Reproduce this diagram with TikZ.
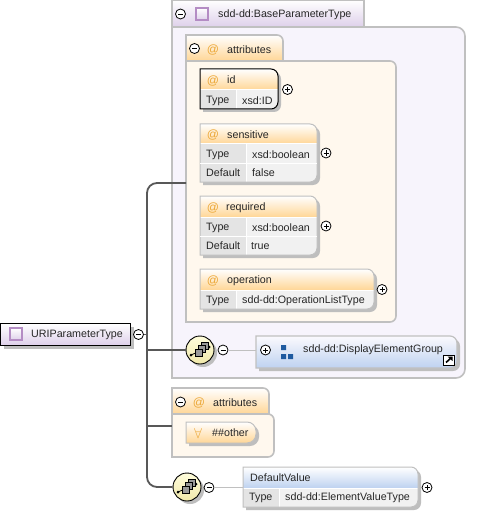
\documentclass[tikz,border=0pt]{standalone}
\usepackage{fontspec}
\setmainfont{Liberation Sans}
\usetikzlibrary{calc}
\definecolor{figEdge}{RGB}{192,192,192}
\definecolor{figTrunk}{RGB}{88,88,88}
\definecolor{figLav}{RGB}{247,244,252}
\definecolor{figLavH}{RGB}{222,208,234}
\definecolor{figCream}{RGB}{255,248,238}
\definecolor{figOrange}{RGB}{255,214,150}
\definecolor{figAt}{RGB}{236,168,56}
\definecolor{figBlue}{RGB}{190,210,240}
\definecolor{figIcon}{RGB}{30,90,160}
\definecolor{figKey}{RGB}{228,228,228}
\definecolor{figVal}{RGB}{241,241,241}
\definecolor{figShadow}{RGB}{190,190,190}
\definecolor{figPurple}{RGB}{180,140,196}
\definecolor{figSeq}{RGB}{255,253,220}
\definecolor{figSeqB}{RGB}{240,232,170}
\tikzset{
  lbl/.style={anchor=west, inner sep=0pt, font=\fontsize{10.7}{12}\selectfont, text=black!85},
  atsign/.style={anchor=center, inner sep=0pt, font=\fontsize{12}{12}\selectfont, text=figAt},
  btn/.style={circle, draw=black, fill=white, line width=0.8pt, minimum size=10pt, inner sep=0pt},
  minusbtn/.style={btn, path picture={\draw[line width=0.8pt] ($(path picture bounding box.center)+(-2.5pt,0)$) -- ++(5pt,0);}},
  plusbtn/.style={btn, path picture={\draw[line width=0.8pt] ($(path picture bounding box.center)+(-2.5pt,0)$) -- ++(5pt,0);
    \draw[line width=0.8pt] ($(path picture bounding box.center)+(0,-2.5pt)$) -- ++(0,5pt);}},
  seqnode/.style={circle, draw=black, line width=0.9pt, minimum size=28pt, inner sep=0pt, top color=figSeq, bottom color=figSeqB},
  trunk/.style={draw=figTrunk, line width=1.8pt},
  twig/.style={draw=figEdge, line width=0.8pt},
}
% box with square left corners and round right corners
\newcommand{\rbox}[6][7pt]{\path[#2] (#3,#4) [rounded corners=#1] -- (#5,#4) -- (#5,#6) [sharp corners] -- (#3,#6) -- cycle;}
% shadow, header, table body, outline
\newcommand{\fieldbox}[8]{%
  \rbox{fill=figShadow}{#1+3}{#2+3}{#3+3}{#5+3}
  \rbox{fill=figVal}{#1}{#2}{#3}{#5}
  \fill[figKey] (#1,#4) rectangle (#6,#5);
  \path[top color=white, bottom color=#7] (#1,#2) [rounded corners=7pt] -- (#3,#2) [sharp corners] -- (#3,#4) -- (#1,#4) -- cycle;
  \draw[white, line width=1pt] (#1,#4) -- (#3,#4) (#6,#4) -- (#6,#5);
  \rbox{draw=#8, line width=1pt}{#1}{#2}{#3}{#5}
}
% little square type icon
\newcommand{\typeicon}[2]{\draw[figPurple, line width=1.2pt, top color=white, bottom color=figLavH] (#1,#2) rectangle ++(12,12);}
% three stacked squares of a sequence
\newcommand{\seqicon}[1]{\begin{scope}[shift={(#1)}]
  \draw[black, line width=0.8pt] (-9,5) -- (9,-3);
  \fill (-9,5) circle (1.5pt) (9,-3) circle (1.5pt);
  \foreach \dx/\dy in {1/-8,-2/-5,-5/-1}
    \draw[black, fill=black!40, line width=0.6pt] (\dx,\dy) rectangle ++(7,7);
\end{scope}}
\begin{document}
\begin{tikzpicture}[x=1pt, y=-1pt]
\useasboundingbox[fill=white] (0,0) rectangle (477,513);
% outer type panel
\rbox[9pt]{draw=figEdge, fill=figLav, line width=1.6pt}{172}{27}{465}{378}
\path[draw=figEdge, line width=1.6pt, top color=white, bottom color=figLavH] (172,0) rectangle (364,27);
\node[minusbtn] (baseMinus) at (180.5,14) {};
\typeicon{196}{8}
\node[lbl] (baseLbl) at (218,14.5) {sdd-dd:BaseParameterType};
% attributes group
\rbox[6pt]{draw=figEdge, fill=figCream, line width=1.6pt}{186}{61}{396}{322}
\path[draw=figEdge, line width=1.6pt, top color=white, bottom color=figOrange] (186,61) -- (186,35) [rounded corners=6pt] -- (283,35) [sharp corners] -- (283,61) -- cycle;
\node[minusbtn] (attrMinus) at (194.5,48.5) {};
\node[atsign] (attrAt) at (213,49.5) {@};
\node[lbl] (attrLbl) at (227,49.5) {attributes};
% id
\fieldbox{200}{69}{278}{90}{109}{236}{figOrange}{black}
\node[atsign] (idAt) at (213,81) {@};
\node[lbl] (idLbl) at (227,80) {id};
\node[lbl] (idKey) at (206,100.5) {Type};
\node[lbl] (idVal) at (242,100.5) {xsd:ID};
\node[plusbtn] (idPlus) at (287.5,89.5) {};
% sensitive
\fieldbox{200}{124}{317}{144}{182}{246}{figOrange}{figEdge}
\draw[white, line width=1pt] (200,163) -- (317,163);
\node[atsign] (sensAt) at (213,135) {@};
\node[lbl] (sensLbl) at (227,134.5) {sensitive};
\node[lbl] (sensKey) at (206,154.5) {Type};
\node[lbl] (sensVal) at (252,154.5) {xsd:boolean};
\node[lbl] (sensDefK) at (206,173) {Default};
\node[lbl] (sensDefV) at (252,173) {false};
\node[plusbtn] (sensPlus) at (326,153) {};
% required
\fieldbox{200}{196}{317}{217}{255}{246}{figOrange}{figEdge}
\draw[white, line width=1pt] (200,236) -- (317,236);
\node[atsign] (reqAt) at (213,208) {@};
\node[lbl] (reqLbl) at (226,207.5) {required};
\node[lbl] (reqKey) at (206,227.5) {Type};
\node[lbl] (reqVal) at (252,227.5) {xsd:boolean};
\node[lbl] (reqDefK) at (206,246) {Default};
\node[lbl] (reqDefV) at (251,246) {true};
\node[plusbtn] (reqPlus) at (326,226) {};
% operation
\fieldbox{200}{269}{374}{290}{309}{236}{figOrange}{figEdge}
\node[atsign] (opAt) at (213,281) {@};
\node[lbl] (opLbl) at (227,280.5) {operation};
\node[lbl] (opKey) at (206,300.5) {Type};
\node[lbl] (opVal) at (242,300.5) {sdd-dd:OperationListType};
\node[plusbtn] (opPlus) at (382,289.5) {};
% display element group
\rbox{fill=figShadow}{259}{339}{460}{371}
\rbox{draw=figEdge, line width=1.2pt, top color=figLav!50!white, bottom color=figBlue}{256}{336}{457}{368}
\node[plusbtn] (dispPlus) at (265.5,350) {};
\fill[figIcon] (281,345) rectangle ++(5,5) (281,354) rectangle ++(5,5) (288,354) rectangle ++(5,5);
\node[lbl] (dispLbl) at (303,350) {sdd-dd:DisplayElementGroup};
\draw[black, fill=white, line width=1pt] (443,355) rectangle ++(11,10);
\draw[black, line width=1.6pt] (446,362.5) -- (451.5,357.5);
\fill[black] (447.5,356.5) -- (452.5,356.5) -- (452.5,361) -- cycle;
% second attributes group
\rbox[6pt]{draw=figEdge, fill=figCream, line width=1.6pt}{172}{414}{274}{457}
\path[draw=figEdge, line width=1.6pt, top color=white, bottom color=figOrange] (172,414) -- (172,388) [rounded corners=6pt] -- (269,388) [sharp corners] -- (269,414) -- cycle;
\node[minusbtn] (anyMinus) at (180.5,402) {};
\node[atsign] (anyAt) at (199,403) {@};
\node[lbl] (anyLbl) at (213,402.5) {attributes};
\rbox[9pt]{fill=figShadow}{189}{425}{259}{446}
\rbox[9pt]{draw=figEdge, line width=1pt, top color=white, bottom color=figOrange}{186}{422}{256}{443}
\node[anchor=center, inner sep=0pt, text=figAt, font=\Large] (otherAll) at (198,433) {$\forall$};
\node[lbl] (otherLbl) at (212,433) {\#\#other};
% default value
\fieldbox{243}{467}{418}{488}{507}{279}{figBlue}{figEdge}
\node[lbl] (defLbl) at (250,478) {DefaultValue};
\node[lbl] (defKey) at (249,498) {Type};
\node[lbl] (defVal) at (285,498) {sdd-dd:ElementValueType};
\node[plusbtn] (defPlus) at (427,487.5) {};
% root element
\fill[figShadow] (4,327) rectangle (134,349);
\path[draw=black, line width=1pt, top color=white, bottom color=figLavH] (0.5,323.5) rectangle (130,345);
\typeicon{10}{328}
\node[lbl] (rootLbl) at (31,334.5) {URIParameterType};
\node[minusbtn] (rootMinus) at (138.5,334.5) {};
% sequence compositors
\fill[figShadow] (203,353) circle (14pt);
\node[seqnode] (seqOne) at (200,350) {};
\seqicon{seqOne}
\node[minusbtn] (seqOneMinus) at (223,350) {};
\fill[figShadow] (190,490) circle (14pt);
\node[seqnode] (seqTwo) at (187,487) {};
\seqicon{seqTwo}
\node[minusbtn] (seqTwoMinus) at (209,487.5) {};
% tree lines
\coordinate (attrIn) at (186,183);
\coordinate (anyIn) at (172,426);
\coordinate (dispIn) at (256,350);
\coordinate (defIn) at (243,487.5);
\draw[trunk, rounded corners=10pt] (attrIn) -- (147,183) -- (147,487) -- (seqTwo.west);
\draw[trunk] (rootMinus.east) -- (147,334.5);
\draw[trunk] (147,350) -- (seqOne.west);
\draw[trunk] (147,426) -- (anyIn);
\draw[twig] (seqOneMinus.east) -- (dispIn);
\draw[twig] (seqTwoMinus.east) -- (defIn);
\end{tikzpicture}
\end{document}
